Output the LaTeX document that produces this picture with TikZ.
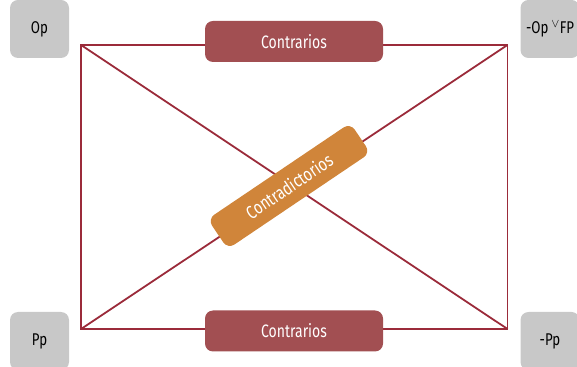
\documentclass[tikz,border=0pt]{standalone}
\usepackage{fontspec}
\setmainfont{Fira Sans}[FakeStretch=0.78]
\usepackage{amssymb}
\usepackage{tikz}
\usetikzlibrary{positioning,calc}

\definecolor{boxgray}{HTML}{C8C8C8}
\definecolor{contred}{HTML}{A24F52}
\definecolor{contorange}{HTML}{D0853A}
\definecolor{linered}{HTML}{9B2B3A}

\begin{document}
\begin{tikzpicture}[
        x=1pt, y=1pt,
        cornersty/.style={
            draw=none, fill=boxgray,
            rectangle, rounded corners=8pt,
            minimum height=58pt,
            minimum width=59pt,
            font=\fontsize{17}{20}\selectfont,
        },
        contsty/.style={
            fill=contred, text=white,
            rectangle, rounded corners=8pt,
            minimum height=41pt,
            minimum width=178pt,
            font=\fontsize{18}{21}\selectfont,
        },
        contrasty/.style={
            fill=contorange, text=white,
            rectangle, rounded corners=8pt,
            minimum height=36pt,
            minimum width=172pt,
            font=\fontsize{18.5}{21}\selectfont,
        },
        linesty/.style={draw=linered, line width=1.8pt},
    ]

    \useasboundingbox (0,0) rectangle (577,366);

    \node[cornersty] at (39.5,337) (op) {Op};
    \node[cornersty] at (550,337) (nop) {-Op\,$^{\vee}$FP};
    \node[cornersty] at (39.5,25) (pp) {Pp};
    \node[cornersty] at (550,25) (npp) {-Pp};

    \coordinate (a) at (81,321);
    \coordinate (b) at (507.5,321);
    \coordinate (c) at (507.5,37);
    \coordinate (d) at (81,37);

    \draw[linesty] (a) -- (b) -- (c) -- (d) -- cycle;
    \draw[linesty] (a) -- (c);
    \draw[linesty] (d) -- (b);

    \node[contsty] at (294,324.5) (ctop) {Contrarios};
    \node[contsty] at (294,35) (cbot) {Contrarios};
    \node[contrasty, rotate=34] at (289,180) (cdiag) {Contradictorios};

\end{tikzpicture}
\end{document}
